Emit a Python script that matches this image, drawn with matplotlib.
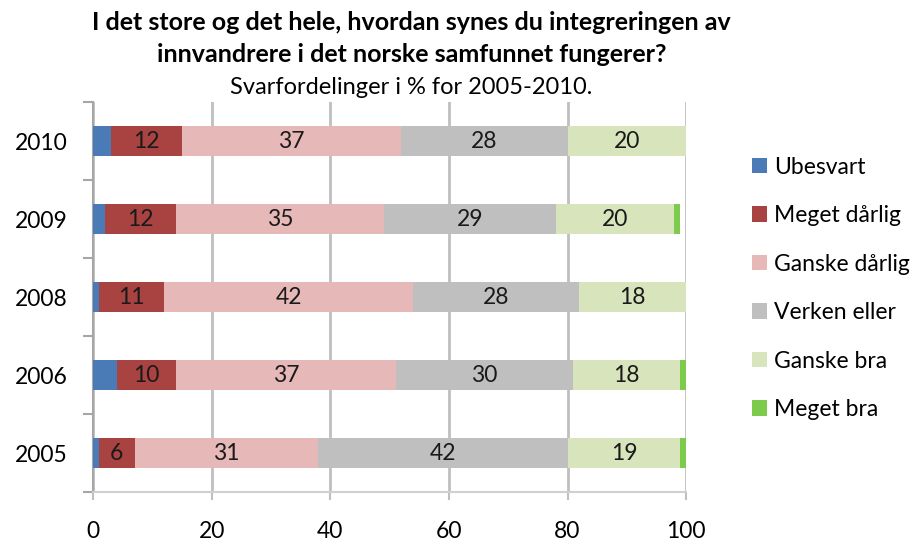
import numpy as np
import matplotlib.pyplot as plt

plt.rcParams['font.family'] = ['Lato', 'DejaVu Sans']

years = ['2010', '2009', '2008', '2006', '2005']
series_names = ['Ubesvart', 'Meget dårlig', 'Ganske dårlig', 'Verken eller', 'Ganske bra', 'Meget bra']
ubesvart = [3, 2, 1, 4, 1]
meget_darlig = [12, 12, 11, 10, 6]
ganske_darlig = [37, 35, 42, 37, 31]
verken_eller = [28, 29, 28, 30, 42]
ganske_bra = [20, 20, 18, 18, 19]
meget_bra = [0, 1, 0, 1, 1]

colors = ['#4a7bb7', '#a84341', '#e6b8b7', '#bfbfbf', '#d8e4bc', '#7dcb4c']
show_labels = [False, True, True, True, True, False]

fig = plt.figure(figsize=(9.21, 5.47), dpi=100)
ax = fig.add_axes([0.101, 0.1005, 0.644, 0.7130])

# top row first
y = np.arange(len(years))[::-1]
left = np.zeros(len(years))
all_series = [ubesvart, meget_darlig, ganske_darlig, verken_eller, ganske_bra, meget_bra]
for name, vals, col, lab in zip(series_names, all_series, colors, show_labels):
    vals = np.array(vals, dtype=float)
    bars = ax.barh(y, vals, left=left, height=0.39, color=col, label=name, zorder=3)
    if lab:
        ax.bar_label(bars, labels=[str(int(v)) for v in vals], label_type='center',
                     fontsize=16.5, color='#1a1a1a')
    left += vals

ax.set_xlim(0, 100)
ax.set_ylim(-0.5, 4.5)
ax.set_xticks([0, 20, 40, 60, 80, 100])
ax.tick_params(axis='x', length=6, width=1.5, color='#bfbfbf', labelsize=16.5, pad=15)
ax.set_yticks(y)
ax.set_yticklabels(years)
ax.tick_params(axis='y', which='major', length=0, labelsize=16.5, pad=18)
ax.set_yticks(np.arange(-0.5, 5, 1), minor=True)
ax.tick_params(axis='y', which='minor', length=7, width=1.5, color='#a6a6a6', direction='out')
ax.xaxis.grid(True, color='#bfbfbf', linewidth=2, zorder=0)
ax.set_axisbelow(True)
for s in ['top', 'right']:
    ax.spines[s].set_visible(False)
ax.spines['left'].set_color('#a6a6a6')
ax.spines['left'].set_linewidth(1.5)
ax.spines['bottom'].set_color('#d0d0d0')
ax.spines['bottom'].set_linewidth(1.5)

fig.text(0.447, 0.958, 'I det store og det hele, hvordan synes du integreringen av',
         ha='center', va='center', fontsize=18, fontweight='bold')
fig.text(0.447, 0.901, 'innvandrere i det norske samfunnet fungerer?',
         ha='center', va='center', fontsize=18, fontweight='bold')
fig.text(0.447, 0.840, 'Svarfordelinger i % for 2005-2010.',
         ha='center', va='center', fontsize=17)

ax.legend(loc='upper left', bbox_to_anchor=(1.111, 0.86), frameon=False, fontsize=16.5,
          handlelength=0.65, handleheight=0.65, handletextpad=0.3, labelspacing=1.2,
          borderaxespad=0, borderpad=0)

fig.savefig('out.png', dpi=100)
